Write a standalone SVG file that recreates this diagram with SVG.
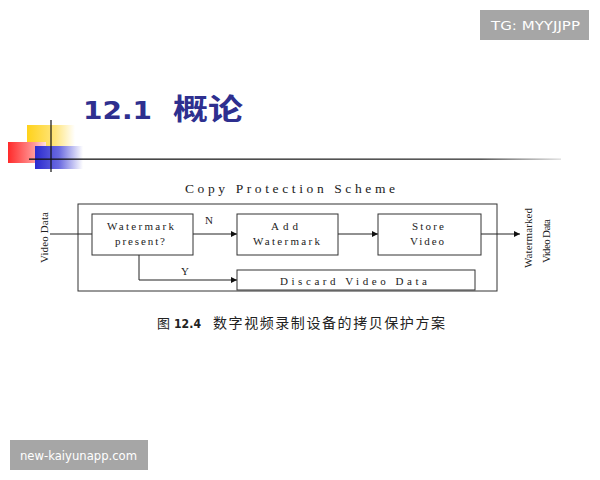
<svg xmlns="http://www.w3.org/2000/svg" width="600" height="480" viewBox="0 0 600 480">
<defs>
<linearGradient id="gy" x1="0" x2="1" y1="0" y2="0"><stop offset="0" stop-color="#ffd21a"/><stop offset="0.6" stop-color="#ffe680"/><stop offset="1" stop-color="#ffffff"/></linearGradient>
<linearGradient id="gr" x1="0" x2="1" y1="0" y2="0"><stop offset="0" stop-color="#ff2a2a"/><stop offset="0.7" stop-color="#ff9a9a"/><stop offset="1" stop-color="#ffe0e0"/></linearGradient>
<linearGradient id="gb" x1="0" x2="1" y1="0" y2="0"><stop offset="0" stop-color="#2a2acf"/><stop offset="0.5" stop-color="#6a6ae0"/><stop offset="1" stop-color="#ffffff"/></linearGradient>
<linearGradient id="gl" x1="0" x2="1" y1="0" y2="0"><stop offset="0" stop-color="#111"/><stop offset="0.85" stop-color="#333"/><stop offset="1" stop-color="#ddd"/></linearGradient>
<marker id="ah" viewBox="0 0 10 10" refX="10" refY="5" markerWidth="10" markerHeight="6" orient="auto" markerUnits="userSpaceOnUse"><path d="M0,0 L10,5 L0,10 z" fill="#111"/></marker>
<style>
.box{fill:#fff;stroke:#333;stroke-width:1}
.t{font-family:"Liberation Serif",serif;font-size:11px;fill:#222}
.ln{fill:none;stroke:#222;stroke-width:1}
.badge{fill:#a6a6a6}
.bt{font-family:"DejaVu Sans",sans-serif;font-size:13px;fill:#fff}
</style>
</defs>
<rect width="600" height="480" fill="#fff"/>
<g id="decor">
<rect x="27" y="125" width="48" height="24" fill="url(#gy)"/>
<rect x="8" y="142" width="38" height="21" fill="url(#gr)"/>
<rect x="35" y="146" width="48" height="23" fill="url(#gb)"/>
<line x1="51" y1="120" x2="51" y2="172" stroke="#111" stroke-width="1.2"/>
<rect x="29" y="158.5" width="532" height="1.3" fill="url(#gl)"/>
</g>
<g id="title">
<text x="83" y="119" font-family="DejaVu Sans,sans-serif" font-weight="bold" font-size="25" fill="#2e2f8f" textLength="69" lengthAdjust="spacingAndGlyphs">12.1</text>
<text x="173" y="120" font-family="'Noto Sans CJK SC',sans-serif" font-weight="bold" font-size="29" fill="#2e2f8f" textLength="70" lengthAdjust="spacingAndGlyphs">概论</text>
</g>
<text x="185" y="193" font-family="'Liberation Serif',serif" font-size="13.5" fill="#222" textLength="210" lengthAdjust="spacing">Copy Protection Scheme</text>
<rect x="78" y="204" width="419" height="87" class="box"/>
<g id="connectors">
<line x1="50" y1="234" x2="92" y2="234" class="ln"/>
<line x1="193" y1="234" x2="237" y2="234" class="ln" marker-end="url(#ah)"/>
<polyline points="139,255 139,280 237,280" class="ln" marker-end="url(#ah)"/>
<line x1="338" y1="234" x2="378" y2="234" class="ln" marker-end="url(#ah)"/>
<line x1="481" y1="234" x2="520" y2="234" class="ln" marker-end="url(#ah)"/>
<text x="209" y="224" font-family="'Liberation Serif',serif" font-size="11" fill="#222" text-anchor="middle">N</text>
<text x="185" y="275" font-family="'Liberation Serif',serif" font-size="11" fill="#222" text-anchor="middle">Y</text>
</g>
<g id="n1"><rect x="92" y="214" width="101" height="41" class="box"/><text x="107" y="230" class="t" textLength="67" lengthAdjust="spacing">Watermark</text><text x="115" y="245" class="t" textLength="50" lengthAdjust="spacing">present?</text></g>
<g id="n2"><rect x="237" y="214" width="101" height="41" class="box"/><text x="271" y="230" class="t" textLength="27" lengthAdjust="spacing">Add</text><text x="253" y="245" class="t" textLength="67" lengthAdjust="spacing">Watermark</text></g>
<g id="n3"><rect x="378" y="214" width="103" height="41" class="box"/><text x="412" y="230" class="t" textLength="32" lengthAdjust="spacing">Store</text><text x="410" y="245" class="t" textLength="34" lengthAdjust="spacing">Video</text></g>
<g id="n4"><rect x="237" y="270" width="238" height="20" class="box"/><text x="280" y="285" class="t" textLength="147" lengthAdjust="spacing">Discard Video Data</text></g>
<g id="in"><text transform="translate(48,263) rotate(-90)" class="t" textLength="51" lengthAdjust="spacing">Video Data</text></g>
<g id="out"><text transform="translate(532,268) rotate(-90)" class="t" textLength="60" lengthAdjust="spacing">Watermarked</text><text transform="translate(550,263) rotate(-90)" class="t" textLength="44" lengthAdjust="spacing">Video Data</text></g>
<g id="caption" fill="#222">
<text x="157" y="328" font-family="'Noto Sans CJK SC',sans-serif" font-size="13">图</text>
<text x="174" y="328" font-family="DejaVu Sans,sans-serif" font-weight="bold" font-size="12.5" textLength="27" lengthAdjust="spacingAndGlyphs">12.4</text>
<text x="213" y="328" font-family="'Noto Sans CJK SC',sans-serif" font-size="14" textLength="232" lengthAdjust="spacing">数字视频录制设备的拷贝保护方案</text>
</g>
<g id="b1"><rect x="480" y="10" width="109" height="30" class="badge"/><text x="491" y="30" class="bt" textLength="89" lengthAdjust="spacingAndGlyphs">TG: MYYJJPP</text></g>
<g id="b2"><rect x="10" y="440" width="138" height="30" class="badge"/><text x="20" y="460" class="bt" textLength="117" lengthAdjust="spacingAndGlyphs">new-kaiyunapp.com</text></g>
</svg>
